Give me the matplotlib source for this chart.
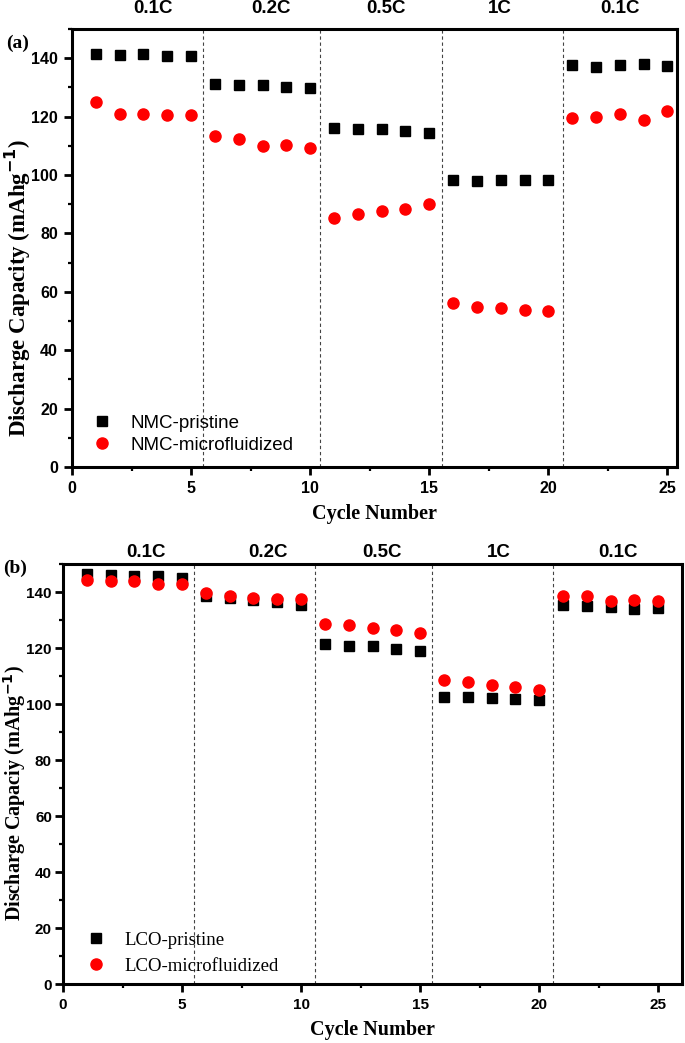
import matplotlib
matplotlib.use("Agg")
import matplotlib.pyplot as plt
from matplotlib.ticker import MultipleLocator

cycles = list(range(1, 26))
rates = ["0.1C", "0.2C", "0.5C", "1C", "0.1C"]

nmc_pristine = [141.5, 141.0, 141.3, 140.6, 140.8,
                131.3, 130.8, 130.8, 130.3, 129.9,
                116.0, 115.7, 115.6, 115.1, 114.3,
                98.2, 98.0, 98.2, 98.3, 98.4,
                137.5, 137.1, 137.7, 138.0, 137.3]
nmc_micro = [125.0, 121.0, 121.0, 120.4, 120.4,
             113.5, 112.2, 110.0, 110.2, 109.4,
             85.3, 86.7, 87.5, 88.2, 89.9,
             56.0, 54.9, 54.4, 53.7, 53.3,
             119.6, 119.8, 121.0, 118.9, 121.8]

lco_pristine = [146.5, 146.2, 145.8, 145.6, 145.0,
                138.4, 138.0, 137.0, 136.5, 135.5,
                121.5, 120.8, 120.6, 119.6, 119.0,
                102.5, 102.4, 102.0, 101.7, 101.4,
                135.3, 135.0, 134.5, 134.0, 134.2]
lco_micro = [144.3, 144.0, 144.0, 143.0, 143.0,
             139.5, 138.6, 138.0, 137.5, 137.6,
             128.5, 128.1, 127.3, 126.3, 125.5,
             108.5, 107.7, 106.9, 106.0, 105.0,
             138.5, 138.5, 136.8, 137.3, 136.8]

sep_a = [5.5, 10.4, 15.55, 20.6]
sep_b = [5.5, 10.6, 15.5, 20.6]
rate_x_a = [3.4, 8.35, 13.2, 17.95, 23.0]
rate_x_b = [3.5, 8.6, 13.4, 18.3, 23.3]

SANS = ["Liberation Sans", "DejaVu Sans"]
SERIF = ["Liberation Serif", "DejaVu Serif"]

fig = plt.figure(figsize=(6.85, 10.43), dpi=100)
ax1 = fig.add_axes([72/685, 1-467/1043, (677-72)/685, (467-29)/1043])
ax2 = fig.add_axes([63/685, 1-984/1043, (682-63)/685, (984-564)/1043])


def style(ax, xmax, seps, rate_x, rate_y, ylabel, label_size, label_xy,
          letter, letter_xy, legend_labels, legend_font, legend_anchor,
          legend_spacing, tick_pad, tick_size, p, m):
    ax.plot(cycles, p, linestyle="none", marker="s", markersize=7,
            color="black", label=legend_labels[0])
    ax.plot(cycles, m, linestyle="none", marker="o", markersize=8,
            color="#ff0000", label=legend_labels[1])
    for s in seps:
        ax.axvline(s, color="#444444", linestyle=(0, (3, 2.5)), linewidth=0.8)
    ax.set_xlim(0, xmax)
    ax.set_ylim(0, 150)
    ax.xaxis.set_major_locator(MultipleLocator(5))
    ax.xaxis.set_minor_locator(MultipleLocator(2.5))
    ax.yaxis.set_major_locator(MultipleLocator(20))
    ax.yaxis.set_minor_locator(MultipleLocator(10))
    for sp in ax.spines.values():
        sp.set_linewidth(2.2)
    ax.tick_params(which="major", direction="out", length=6, width=2,
                   top=False, right=False, pad=4)
    ax.tick_params(axis="y", which="major", pad=tick_pad)
    ax.tick_params(which="minor", direction="out", length=3, width=1.6,
                   top=False, right=False)
    for lab in ax.get_xticklabels() + ax.get_yticklabels():
        lab.set_fontfamily(SANS)
        lab.set_fontweight("bold")
        lab.set_fontsize(tick_size)
    for x, r in zip(rate_x, rates):
        ax.text(x, rate_y, r, transform=ax.get_xaxis_transform(),
                ha="center", va="center", fontsize=13.5, fontweight="bold",
                family=SANS)
    ax.set_xlabel("Cycle Number", family=SERIF, fontweight="bold",
                  fontsize=14.5, labelpad=6)
    ax.set_ylabel(ylabel, family=SERIF, fontweight="bold", fontsize=label_size)
    ax.yaxis.set_label_coords(label_xy[0], label_xy[1])
    fig.text(letter_xy[0], letter_xy[1], letter, family=SERIF,
             fontweight="bold", fontsize=14, ha="center", va="center")
    ax.legend(loc="upper left", bbox_to_anchor=legend_anchor, frameon=False,
              prop={"family": legend_font, "size": 13.5}, handlelength=1.0,
              handletextpad=1.0, labelspacing=legend_spacing, borderaxespad=0)


style(ax1, 25.4, sep_a, rate_x_a, 1.047,
      "Discharge Capacity (mAhg$^{\\mathbf{-1}}$)", 16.5, (-0.065, 0.41), "(a)",
      (18/685, 1-43/1043), ["NMC-pristine", "NMC-microfluidized"], SANS,
      (0.022, 0.136), 0.25, 4, 11.5, nmc_pristine, nmc_micro)
style(ax2, 26.0, sep_b, rate_x_b, 1.028,
      "Discharge Capaciy (mAhg$^{\\mathbf{-1}}$)", 14.5, (-0.057, 0.455), "(b)",
      (15/685, 1-568/1043), ["LCO-pristine", "LCO-microfluidized"], SERIF,
      (0.026, 0.142), 0.45, 2, 11, lco_pristine, lco_micro)

fig.savefig("out.png", dpi=100)
